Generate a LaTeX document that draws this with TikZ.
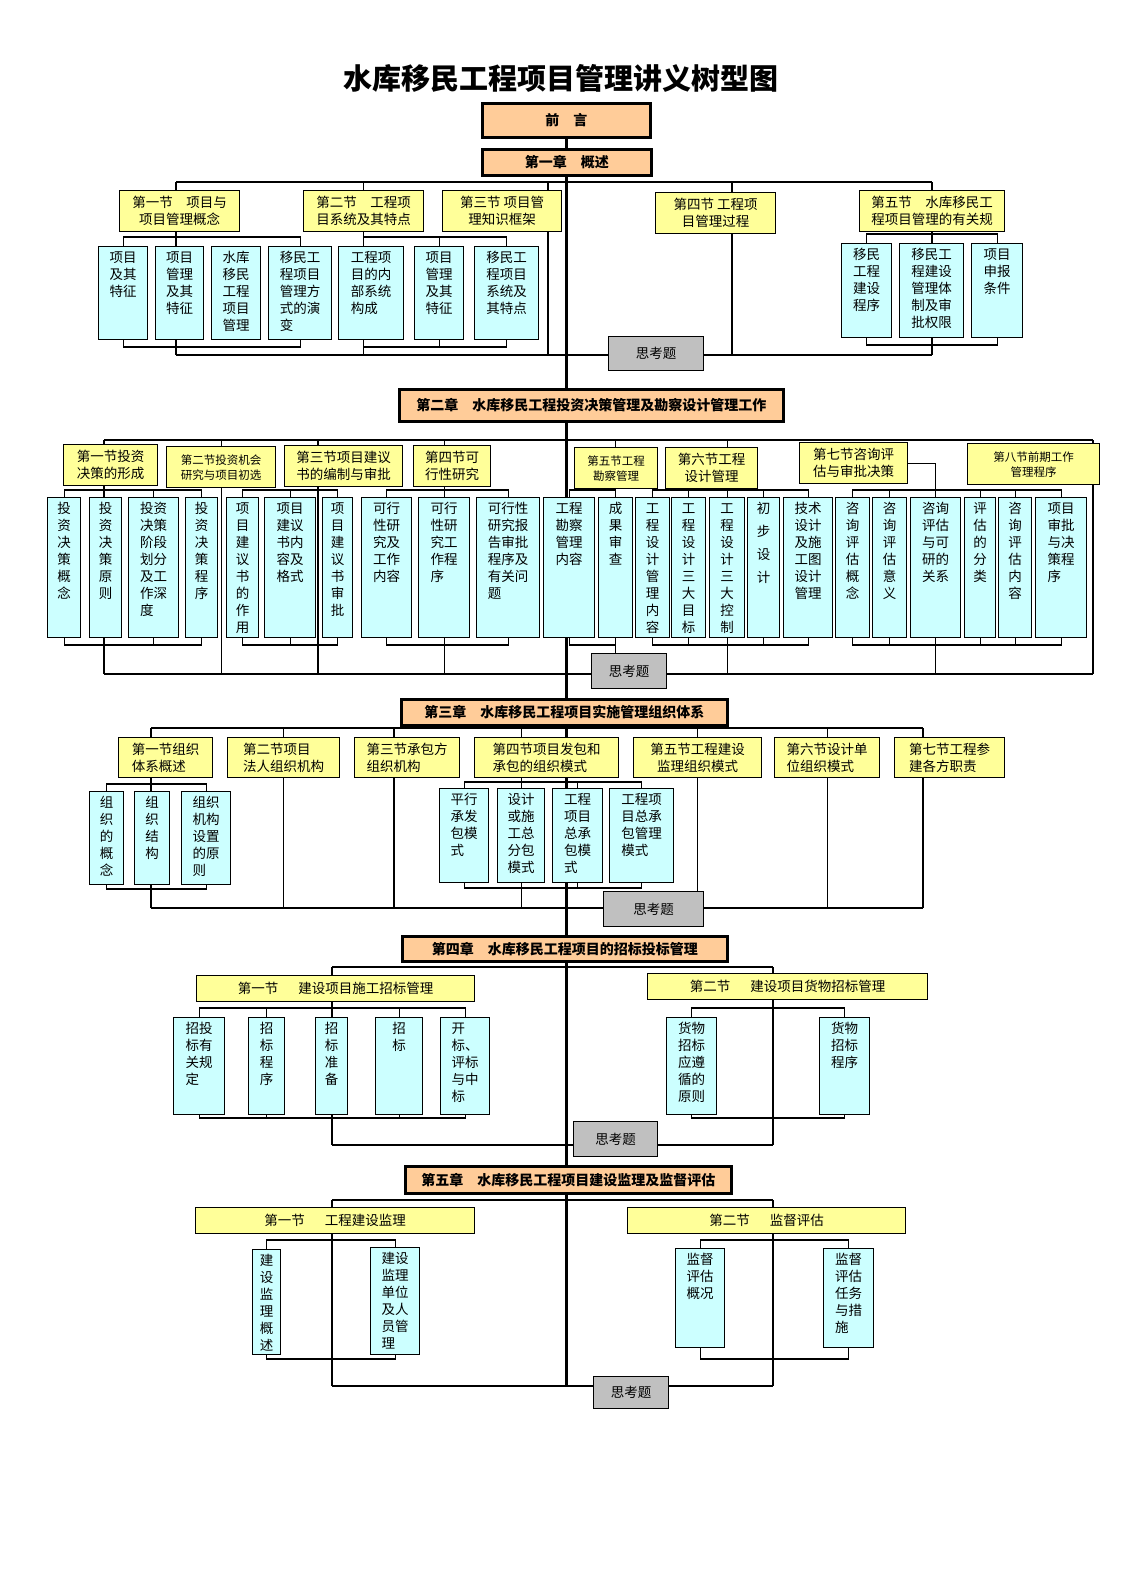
\documentclass[tikz,border=0pt]{standalone}
\usepackage{fontspec}
\setmainfont{Noto Sans CJK SC}
\usetikzlibrary{backgrounds}
\pgfdeclarelayer{foreground}
\pgfsetlayers{background,main,foreground}
\definecolor{chapc}{HTML}{FFCC99}
\definecolor{secc}{HTML}{FFFF99}
\definecolor{leafc}{HTML}{CCFFFF}
\definecolor{thinkc}{HTML}{C0C0C0}
\newcommand{\leaftext}[1]{\begin{tabular}[t]{@{}l@{}}#1\end{tabular}}

\begin{document}
\begin{tikzpicture}
  [
    x=1pt,y=-1pt,
    conn/.style={line width=1.3pt},
    spine/.style={line width=3pt},
    chap/.style 2 args={draw,line width=2.6pt,fill=chapc,anchor=north west,minimum width=#1,minimum height=#2,inner sep=0pt,font=\bfseries\fontsize{14}{17}\selectfont},
    sec/.style 2 args={draw,line width=1.3pt,fill=secc,anchor=north west,minimum width=#1,minimum height=#2,inner sep=1pt,align=center,font=\fontsize{13.5}{17}\selectfont},
    secsmall/.style={font=\fontsize{11.5}{15}\selectfont},
    leaf/.style 2 args={draw,line width=1.3pt,fill=leafc,anchor=north west,minimum width=#1,inner xsep=0pt,inner ysep=4pt,text height=12pt,text depth={#2-20},font=\fontsize{13.5}{17}\selectfont},
    think/.style 2 args={draw,line width=1.3pt,fill=thinkc,anchor=north west,minimum width=#1,minimum height=#2,inner sep=0pt,font=\fontsize{13.5}{17}\selectfont}
  ]
  \useasboundingbox (0,0) rectangle (1122,1587);

  % title and chapters
  \node (title) at (561,78) {\bfseries\fontsize{29}{34}\selectfont 水库移民工程项目管理讲义树型图};
  \begin{pgfonlayer}{foreground}
    \node[chap={168}{34}] at (481,102) (pre) {前\quad 言};
    \node[chap={169}{26}] at (481,148) (ch1) {第一章　概述};
    \node[chap={384}{32}] at (398,388) (ch2) {第二章　水库移民工程投资决策管理及勘察设计管理工作};
    \node[chap={326}{26}] at (400,698) (ch3) {第三章　水库移民工程项目实施管理组织体系};
    \node[chap={325}{25}] at (401,935) (ch4) {第四章　水库移民工程项目的招标投标管理};
    \node[chap={326}{27}] at (404,1165) (ch5) {第五章　水库移民工程项目建设监理及监督评估};
  \end{pgfonlayer}

  % chapter 1
  \node[sec={120}{41}] at (119,190) (s11) {第一节　项目与\\项目管理概念};
  \node[sec={120}{41}] at (303,190) (s12) {第二节　工程项\\目系统及其特点};
  \node[sec={119}{41}] at (442,190) (s13) {第三节 项目管\\理知识框架};
  \node[sec={120}{41}] at (655,192) (s14) {第四节 工程项\\目管理过程};
  \node[sec={145}{41}] at (859,190) (s15) {第五节　水库移民工\\程项目管理的有关规};
  \node[leaf={49}{93}] at (98,246) (c11) {\leaftext{项目\\及其\\特征}};
  \node[leaf={48}{93}] at (155,246) (c12) {\leaftext{项目\\管理\\及其\\特征}};
  \node[leaf={49}{93}] at (211,246) (c13) {\leaftext{水库\\移民\\工程\\项目\\管理}};
  \node[leaf={63}{93}] at (268,246) (c14) {\leaftext{移民工\\程项目\\管理方\\式的演\\变}};
  \node[leaf={65}{93}] at (338,246) (c15) {\leaftext{工程项\\目的内\\部系统\\构成}};
  \node[leaf={49}{93}] at (414,246) (c16) {\leaftext{项目\\管理\\及其\\特征}};
  \node[leaf={64}{93}] at (474,246) (c17) {\leaftext{移民工\\程项目\\系统及\\其特点}};
  \node[leaf={50}{94}] at (841,243) (c18) {\leaftext{移民\\工程\\建设\\程序}};
  \node[leaf={64}{94}] at (899,243) (c19) {\leaftext{移民工\\程建设\\管理体\\制及审\\批权限}};
  \node[leaf={51}{94}] at (971,243) (c1a) {\leaftext{项目\\申报\\条件}};
  \node[think={95}{34}] at (608,336) (q1) {思考题};

  % chapter 2
  \node[sec={94}{41},align=left] at (63,444) (s21) {第一节投资\\决策的形成};
  \node[sec={109}{41},secsmall] at (166,446) (s22) {第二节投资机会\\研究与项目初选};
  \node[sec={118}{41},align=left] at (284,445) (s23) {第三节项目建议\\书的编制与审批};
  \node[sec={77}{41},align=left] at (413,445) (s24) {第四节可\\行性研究};
  \node[sec={83}{41},secsmall] at (574,447) (s25) {第五节工程\\勘察管理};
  \node[sec={92}{41}] at (665,447) (s26) {第六节工程\\设计管理};
  \node[sec={108}{41},align=left] at (799,442) (s27) {第七节咨询评\\估与审批决策};
  \node[sec={132}{41},secsmall] at (967,443) (s28) {第八节前期工作\\管理程序};
  \node[leaf={33}{140}] at (47,497) (d21) {\leaftext{投\\资\\决\\策\\概\\念}};
  \node[leaf={32}{140}] at (89,497) (d22) {\leaftext{投\\资\\决\\策\\原\\则}};
  \node[leaf={50}{140}] at (128,497) (d23) {\leaftext{投资\\决策\\阶段\\划分\\及工\\作深\\度}};
  \node[leaf={32}{140}] at (185,497) (d24) {\leaftext{投\\资\\决\\策\\程\\序}};
  \node[leaf={32}{140}] at (226,497) (d25) {\leaftext{项\\目\\建\\议\\书\\的\\作\\用}};
  \node[leaf={51}{140}] at (264,497) (d26) {\leaftext{项目\\建议\\书内\\容及\\格式}};
  \node[leaf={30}{140}] at (322,497) (d27) {\leaftext{项\\目\\建\\议\\书\\审\\批}};
  \node[leaf={50}{140}] at (361,497) (d28) {\leaftext{可行\\性研\\究及\\工作\\内容}};
  \node[leaf={51}{140}] at (418,497) (d29) {\leaftext{可行\\性研\\究工\\作程\\序}};
  \node[leaf={63}{140}] at (476,497) (d2a) {\leaftext{可行性\\研究报\\告审批\\程序及\\有关问\\题}};
  \node[leaf={51}{140}] at (543,497) (d2b) {\leaftext{工程\\勘察\\管理\\内容}};
  \node[leaf={34}{140}] at (598,497) (d2c) {\leaftext{成\\果\\审\\查}};
  \node[leaf={34}{140}] at (635,497) (d2d) {\leaftext{工\\程\\设\\计\\管\\理\\内\\容}};
  \node[leaf={34}{140}] at (671,497) (d2e) {\leaftext{工\\程\\设\\计\\三\\大\\目\\标}};
  \node[leaf={35}{140}] at (709,497) (d2f) {\leaftext{工\\程\\设\\计\\三\\大\\控\\制}};
  \node[leaf={32}{140}] at (747,497) (d2g) {\leaftext{初\\[6pt]步\\[6pt]设\\[6pt]计}};
  \node[leaf={49}{140}] at (783,497) (d2h) {\leaftext{技术\\设计\\及施\\工图\\设计\\管理}};
  \node[leaf={34}{140}] at (835,497) (d2i) {\leaftext{咨\\询\\评\\估\\概\\念}};
  \node[leaf={34}{140}] at (872,497) (d2j) {\leaftext{咨\\询\\评\\估\\意\\义}};
  \node[leaf={50}{140}] at (910,497) (d2k) {\leaftext{咨询\\评估\\与可\\研的\\关系}};
  \node[leaf={31}{140}] at (964,497) (d2l) {\leaftext{评\\估\\的\\分\\类}};
  \node[leaf={33}{140}] at (998,497) (d2m) {\leaftext{咨\\询\\评\\估\\内\\容}};
  \node[leaf={51}{140}] at (1035,497) (d2n) {\leaftext{项目\\审批\\与决\\策程\\序}};
  \node[think={75}{35}] at (591,653) (q2) {思考题};

  % chapter 3
  \node[sec={94}{40},align=left] at (118,737) (u31) {第一节组织\\体系概述};
  \node[sec={112}{40},align=left] at (227,737) (u32) {第二节项目\\法人组织机构};
  \node[sec={105}{40},align=left] at (354,737) (u33) {第三节承包方\\组织机构};
  \node[sec={144}{40},align=left] at (474,737) (u34) {第四节项目发包和\\承包的组织模式};
  \node[sec={128}{40}] at (633,737) (u35) {第五节工程建设\\监理组织模式};
  \node[sec={105}{40},align=left] at (774,737) (u36) {第六节设计单\\位组织模式};
  \node[sec={110}{40},align=left] at (894,737) (u37) {第七节工程参\\建各方职责};
  \node[leaf={34}{93}] at (89,791) (e31) {\leaftext{组\\织\\的\\概\\念}};
  \node[leaf={35}{93}] at (134,791) (e32) {\leaftext{组\\织\\结\\构}};
  \node[leaf={49}{93}] at (181,791) (e33) {\leaftext{组织\\机构\\设置\\的原\\则}};
  \node[leaf={49}{94}] at (439,788) (f31) {\leaftext{平行\\承发\\包模\\式}};
  \node[leaf={47}{94}] at (497,788) (f32) {\leaftext{设计\\或施\\工总\\分包\\模式}};
  \node[leaf={50}{94}] at (552,788) (f33) {\leaftext{工程\\项目\\总承\\包模\\式}};
  \node[leaf={64}{94}] at (609,788) (f34) {\leaftext{工程项\\目总承\\包管理\\模式}};
  \node[think={100}{35}] at (603,891) (q3) {思考题};

  % chapter 4
  \node[sec={278}{26}] at (196,975) (v41) {第一节\hspace{20pt}建设项目施工招标管理};
  \node[sec={280}{26}] at (647,973) (v42) {第二节\hspace{20pt}建设项目货物招标管理};
  \node[leaf={51}{97}] at (173,1017) (g41) {\leaftext{招投\\标有\\关规\\定}};
  \node[leaf={36}{97}] at (248,1017) (g42) {\leaftext{招\\标\\程\\序}};
  \node[leaf={32}{97}] at (315,1017) (g43) {\leaftext{招\\标\\准\\备}};
  \node[leaf={47}{97}] at (375,1017) (g44) {\leaftext{招\\标}};
  \node[leaf={49}{97}] at (440,1017) (g45) {\leaftext{开\\标、\\评标\\与中\\标}};
  \node[leaf={50}{97}] at (666,1017) (h41) {\leaftext{货物\\招标\\应遵\\循的\\原则}};
  \node[leaf={50}{97}] at (819,1017) (h42) {\leaftext{货物\\招标\\程序}};
  \node[think={84}{35}] at (573,1121) (q4) {思考题};

  % chapter 5
  \node[sec={279}{26}] at (195,1207) (w51) {第一节\hspace{20pt}工程建设监理};
  \node[sec={278}{26}] at (627,1207) (w52) {第二节\hspace{20pt}监督评估};
  \node[leaf={28}{105}] at (252,1249) (k51) {\leaftext{建\\设\\监\\理\\概\\述}};
  \node[leaf={49}{107}] at (370,1247) (k52) {\leaftext{建设\\监理\\单位\\及人\\员管\\理}};
  \node[leaf={49}{99}] at (675,1248) (l51) {\leaftext{监督\\评估\\概况}};
  \node[leaf={50}{99}] at (823,1248) (l52) {\leaftext{监督\\评估\\任务\\与措\\施}};
  \node[think={75}{32}] at (593,1376) (q5) {思考题};

  \begin{scope}[on background layer]
    % spine, under every box
    \coordinate (f5w) at (332,1386);
    \draw[spine] (pre.south) -- (pre.south |- f5w);

    % chapter 1 lines
    \coordinate (b1w) at (176,182); \coordinate (b1e) at (932,182);
    \coordinate (f1w) at (176,355); \coordinate (f1e) at (932,355);
    \coordinate (t13) at (548,182); \coordinate (t14) at (732,182);
    \coordinate (y1a) at (0,237); \coordinate (y1b) at (0,347);
    \coordinate (y1c) at (0,234); \coordinate (y1d) at (0,345);
    \draw[conn] (b1w) -- (b1e);
    \draw[conn] (f1w) -- (f1e);
    \draw[conn] (b1w) -- (f1w);
    \draw[conn] (s12.north |- b1w) -- (s12.south |- f1w);
    \draw[conn] (t13) -- (t13 |- f1w);
    \draw[conn] (t14) -- (t14 |- f1w);
    \draw[conn] (b1e) -- (f1e);
    \draw[conn] (c11.north) -- (c11.north |- y1a) -| (c14.north);
    \draw[conn] (c11.south) -- (c11.south |- y1b) -| (c14.south);
    \draw[conn] (s12.south |- y1a) -| (c17.north);
    \draw[conn] (c16.north) -- (c16.north |- y1a);
    \draw[conn] (s12.south |- y1b) -| (c17.south);
    \draw[conn] (c16.south) -- (c16.south |- y1b);
    \draw[conn] (c18.north) -- (c18.north |- y1c) -| (c1a.north);
    \draw[conn] (c18.south) -- (c18.south |- y1d) -| (c1a.south);

    % chapter 2 lines
    \coordinate (b2w) at (104,440); \coordinate (b2e) at (1093,440);
    \coordinate (f2w) at (104,674); \coordinate (f2e) at (1093,674);
    \coordinate (t23) at (318,440);
    \coordinate (y2a) at (0,490); \coordinate (y2b) at (0,645);
    \draw[conn] (b2w) -- (b2e);
    \draw[conn] (f2w) -- (f2e);
    \draw[conn] (b2w) -- (f2w);
    \draw[conn] (s22.north |- b2w) -- (s22.south |- f2w);
    \draw[conn] (t23) -- (t23 |- f2w);
    \draw[conn] (d29.north |- b2w) -- (d29.south |- f2w);
    \draw[conn] (d2c.north |- b2w) -- (d2c.south |- q2.north);
    \draw[conn] (d2f.north |- b2w) -- (d2f.south |- f2w);
    \draw[conn] (s27.east) -| (d2k.south |- f2w);
    \draw[conn] (b2e) -- (f2e);
    \draw[conn] (d21.north) -- (d21.north |- y2a) -| (d24.north);
    \draw[conn] (d23.north) -- (d23.north |- y2a);
    \draw[conn] (d21.south) -- (d21.south |- y2b) -| (d24.south);
    \draw[conn] (d23.south) -- (d23.south |- y2b);
    \draw[conn] (d25.north) -- (d25.north |- y2a) -| (d27.north);
    \draw[conn] (d26.north) -- (d26.north |- y2a);
    \draw[conn] (d25.south) -- (d25.south |- y2b) -| (d27.south);
    \draw[conn] (d26.south) -- (d26.south |- y2b);
    \draw[conn] (d28.north) -- (d28.north |- y2a) -| (d2a.north);
    \draw[conn] (d28.south) -- (d28.south |- y2b) -| (d2a.south);
    \draw[conn] (d2b.north) -- (d2b.north |- y2a) -| (d2c.north);
    \draw[conn] (d2b.south) -- (d2b.south |- y2b) -| (d2c.south);
    \draw[conn] (d2d.north) -- (d2d.north |- y2a) -| (d2h.north);
    \draw[conn] (d2e.north) -- (d2e.north |- y2a);
    \draw[conn] (d2g.north) -- (d2g.north |- y2a);
    \draw[conn] (d2d.south) -- (d2d.south |- y2b) -| (d2h.south);
    \draw[conn] (d2e.south) -- (d2e.south |- y2b);
    \draw[conn] (d2g.south) -- (d2g.south |- y2b);
    \draw[conn] (d2i.north) -- (d2i.north |- y2a) -| (d2n.north);
    \draw[conn] (d2j.north) -- (d2j.north |- y2a);
    \draw[conn] (d2l.north) -- (d2l.north |- y2a);
    \draw[conn] (d2m.north) -- (d2m.north |- y2a);
    \draw[conn] (d2i.south) -- (d2i.south |- y2b) -| (d2n.south);
    \draw[conn] (d2j.south) -- (d2j.south |- y2b);
    \draw[conn] (d2l.south) -- (d2l.south |- y2b);
    \draw[conn] (d2m.south) -- (d2m.south |- y2b);

    % chapter 3 lines
    \coordinate (b3w) at (151,728); \coordinate (b3e) at (923,728);
    \coordinate (f3w) at (151,908); \coordinate (f3e) at (923,908);
    \coordinate (t33) at (394,728);
    \coordinate (y3a) at (0,784); \coordinate (y3b) at (0,889);
    \coordinate (y3c) at (0,782); \coordinate (y3d) at (0,888);
    \draw[conn] (b3w) -- (b3e);
    \draw[conn] (f3w) -- (f3e);
    \draw[conn] (b3w) -- (f3w);
    \draw[conn] (u32.north |- b3w) -- (u32.south |- f3w);
    \draw[conn] (t33) -- (t33 |- f3w);
    \draw[conn] (f32.north |- b3w) -- (f32.south |- f3w);
    \draw[conn] (u35.north |- b3w) -- (u35.south |- q3.north);
    \draw[conn] (u36.north |- b3w) -- (u36.south |- f3w);
    \draw[conn] (b3e) -- (f3e);
    \draw[conn] (e31.north) -- (e31.north |- y3a) -| (e33.north);
    \draw[conn] (e31.south) -- (e31.south |- y3b) -| (e33.south);
    \draw[conn] (f31.north) -- (f31.north |- y3c) -| (f34.north);
    \draw[conn] (f33.north) -- (f33.north |- y3c);
    \draw[conn] (f31.south) -- (f31.south |- y3d) -| (f34.south);
    \draw[conn] (f33.south) -- (f33.south |- y3d);

    % chapter 4 lines
    \coordinate (b4w) at (332,967); \coordinate (b4e) at (773,967);
    \coordinate (f4w) at (332,1145); \coordinate (f4e) at (773,1145);
    \coordinate (y4a) at (0,1008); \coordinate (y4b) at (0,1118);
    \draw[conn] (b4w) -- (b4e);
    \draw[conn] (f4w) -- (f4e);
    \draw[conn] (b4w) -- (f4w);
    \draw[conn] (b4e) -- (f4e);
    \draw[conn] (g41.north) -- (g41.north |- y4a) -| (g45.north);
    \draw[conn] (g42.north) -- (g42.north |- y4a);
    \draw[conn] (g44.north) -- (g44.north |- y4a);
    \draw[conn] (g41.south) -- (g41.south |- y4b) -| (g45.south);
    \draw[conn] (g42.south) -- (g42.south |- y4b);
    \draw[conn] (g44.south) -- (g44.south |- y4b);
    \draw[conn] (h41.north) -- (h41.north |- y4a) -| (h42.north);
    \draw[conn] (h41.south) -- (h41.south |- y4b) -| (h42.south);

    % chapter 5 lines
    \coordinate (b5w) at (332,1200); \coordinate (b5e) at (773,1200);
    \coordinate (f5e) at (773,1386);
    \coordinate (y5a) at (0,1240); \coordinate (y5b) at (0,1359);
    \draw[conn] (b5w) -- (b5e);
    \draw[conn] (f5w) -- (f5e);
    \draw[conn] (b5w) -- (f5w);
    \draw[conn] (b5e) -- (f5e);
    \draw[conn] (k51.north) -- (k51.north |- y5a) -| (k52.north);
    \draw[conn] (k51.south) -- (k51.south |- y5b) -| (k52.south);
    \draw[conn] (l51.north) -- (l51.north |- y5a) -| (l52.north);
    \draw[conn] (l51.south) -- (l51.south |- y5b) -| (l52.south);
  \end{scope}
\end{tikzpicture}
\end{document}
